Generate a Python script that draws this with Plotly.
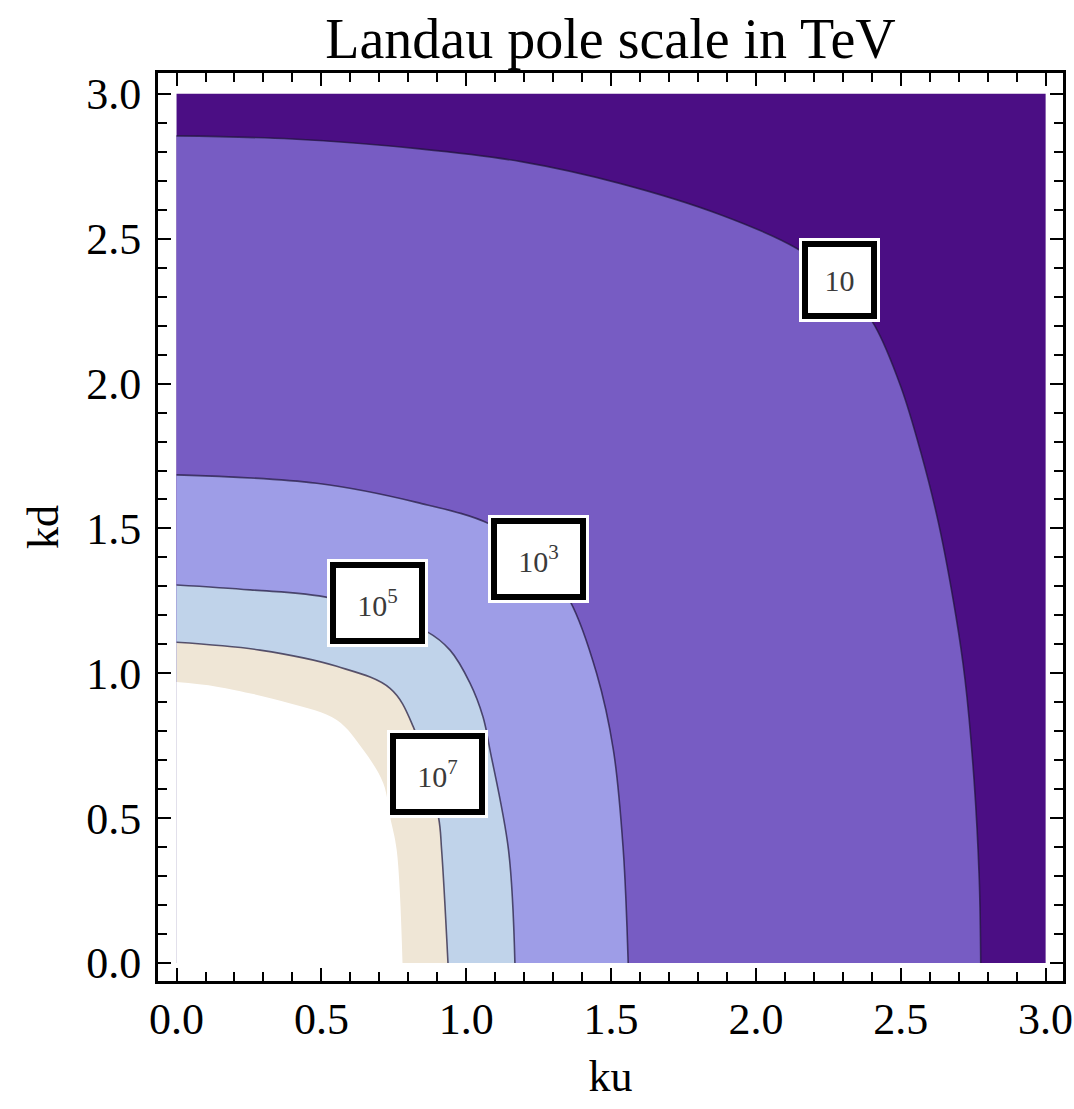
import plotly.graph_objects as go

# Coupling plane covered by the scan
ku_range = [0.0, 3.0]
kd_range = [0.0, 3.0]

# Contours of the Landau pole scale (ku, kd points along each curve)
ku_10 = [0.0, 0.40, 0.84, 1.19, 1.53, 1.88, 2.14, 2.30, 2.41, 2.50, 2.57, 2.63, 2.69, 2.722, 2.753, 2.771, 2.776]
kd_10 = [2.855, 2.844, 2.81, 2.766, 2.691, 2.582, 2.467, 2.35, 2.20, 1.99, 1.76, 1.52, 1.20, 0.977, 0.632, 0.287, 0.0]

ku_1e3 = [0.0, 0.484, 0.829, 1.082, 1.25, 1.358, 1.45, 1.508, 1.542, 1.559]
kd_1e3 = [1.685, 1.656, 1.59, 1.515, 1.40, 1.25, 1.0, 0.735, 0.39, 0.0]

ku_1e5 = [0.0, 0.254, 0.53, 0.864, 0.944, 1.013, 1.058, 1.082, 1.146, 1.168]
kd_1e5 = [1.305, 1.288, 1.26, 1.144, 1.080, 0.966, 0.849, 0.735, 0.39, 0.0]

ku_1e7 = [0.0, 0.288, 0.553, 0.737, 0.817, 0.904, 0.915, 0.937]
kd_1e7 = [1.107, 1.080, 1.024, 0.948, 0.816, 0.505, 0.39, 0.0]

# Edge of the region where no pole is found below the cutoff
ku_edge = [0.0, 0.139, 0.39, 0.553, 0.645, 0.714, 0.737, 0.76, 0.78]
kd_edge = [0.97, 0.954, 0.897, 0.839, 0.735, 0.62, 0.505, 0.39, 0.0]

# Contour labels: text and position
label_text = ["10", "10<sup>3</sup>", "10<sup>5</sup>", "10<sup>7</sup>"]
label_ku = [2.287, 1.251, 0.694, 0.901]
label_kd = [2.358, 1.395, 1.243, 0.654]

tick_vals = [0.0, 0.5, 1.0, 1.5, 2.0, 2.5, 3.0]
tick_text = ["0.0", "0.5", "1.0", "1.5", "2.0", "2.5", "3.0"]

band_colors = ["#4b0e84", "#775cc3", "#9e9de7", "#c0d3ea", "#efe6d6", "#ffffff"]
line_color = "rgba(30,20,55,0.7)"

fig = go.Figure()

# Lowest band covers the whole scanned square
fig.add_trace(go.Scatter(
    x=ku_range, y=[kd_range[1], kd_range[1]], mode="lines",
    fill="tozeroy", fillcolor=band_colors[0],
    line=dict(width=0), hoverinfo="skip", showlegend=False,
))

curves = [(ku_10, kd_10), (ku_1e3, kd_1e3), (ku_1e5, kd_1e5), (ku_1e7, kd_1e7), (ku_edge, kd_edge)]
for i, (xs, ys) in enumerate(curves):
    is_edge = i == len(curves) - 1
    fig.add_trace(go.Scatter(
        x=xs, y=ys, mode="lines",
        fill="tozeroy", fillcolor=band_colors[i + 1],
        line=dict(shape="spline", smoothing=1.0,
                  color=band_colors[i + 1] if is_edge else line_color,
                  width=0 if is_edge else 1.6),
        hoverinfo="skip", showlegend=False,
    ))

serif = "Liberation Serif, Times New Roman, serif"

annotations = []
for t, x, y in zip(label_text, label_ku, label_kd):
    w = 63 if t == "10" else 83
    h = 66 if t == "10" else 70
    common = dict(x=x, y=y, xref="x", yref="y", text=t, showarrow=False,
                  width=w, height=h, borderpad=0, align="center", valign="middle",
                  font=dict(family=serif, size=30, color="#3a3a3a"))
    # white halo around the framed label
    annotations.append(dict(common, bgcolor="white", bordercolor="white", borderwidth=9))
    annotations.append(dict(common, bgcolor="white", bordercolor="black", borderwidth=6))

axis_common = dict(
    showline=True, linecolor="black", linewidth=3, mirror="allticks",
    ticks="inside", ticklen=13, tickwidth=2, tickcolor="black",
    tickvals=tick_vals, ticktext=tick_text,
    minor=dict(dtick=0.1, ticks="inside", ticklen=9, tickwidth=2, tickcolor="black", showgrid=False),
    showgrid=False, zeroline=False, automargin=False,
    tickfont=dict(family=serif, size=44, color="black"),
)

fig.update_layout(
    width=1074, height=1109,
    margin=dict(l=158, r=11, t=73, b=128),
    paper_bgcolor="white", plot_bgcolor="white",
    title=dict(text="Landau pole scale in TeV", x=0.5, xref="paper",
               y=1 - 38 / 1109, yref="container", yanchor="middle",
               font=dict(family=serif, size=56, color="black")),
    xaxis=dict(axis_common, range=[-0.064, 3.060], ticklabelstandoff=-3,
               title=dict(text="ku", standoff=18, font=dict(family=serif, size=44, color="black"))),
    yaxis=dict(axis_common, range=[-0.062, 3.072], ticklabelstandoff=5,
               title=dict(text="kd", standoff=14, font=dict(family=serif, size=44, color="black"))),
    annotations=annotations,
)

fig.write_html("out.html")
